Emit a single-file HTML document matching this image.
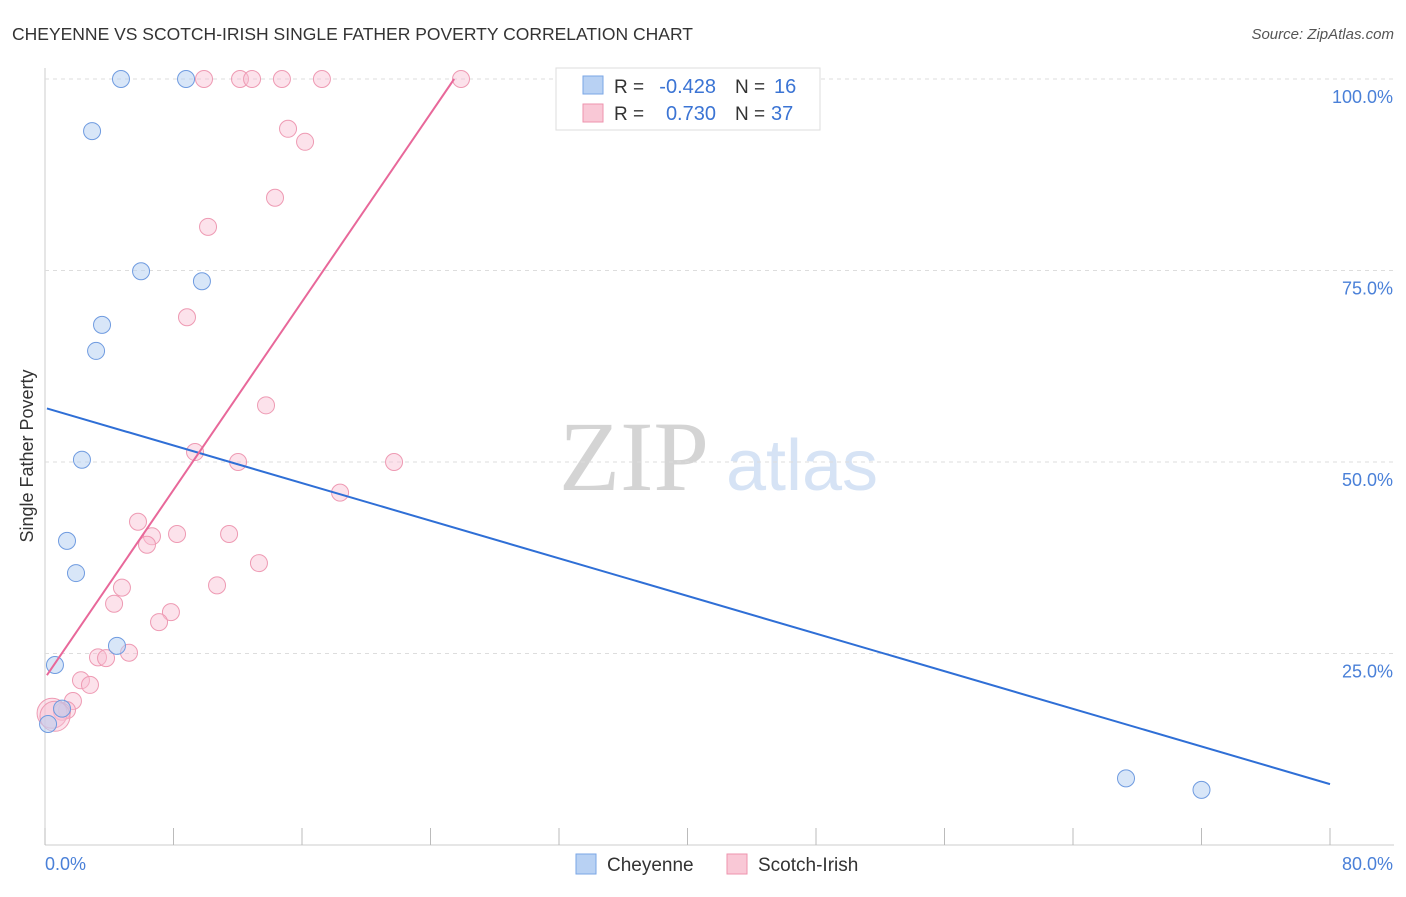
<!DOCTYPE html>
<html><head><meta charset="utf-8"><style>
body{margin:0;background:#fff;font-family:"Liberation Sans",sans-serif}
</style></head><body>
<svg id="c" width="1406" height="892" style="font-family:'Liberation Sans',sans-serif">
<text x="12" y="40" font-size="17.5" fill="#333">CHEYENNE VS SCOTCH-IRISH SINGLE FATHER POVERTY CORRELATION CHART</text>
<text x="1394" y="39" font-size="15" fill="#555" font-style="italic" text-anchor="end">Source: ZipAtlas.com</text>
<text x="33" y="456" font-size="18" fill="#333" text-anchor="middle" transform="rotate(-90 33 456)">Single Father Poverty</text>
<g><text x="634" y="490" font-size="100" fill="#d4d4d4" style="font-family:'Liberation Serif',serif" text-anchor="middle">ZIP</text><text x="802" y="490" font-size="72" fill="#d6e3f5" text-anchor="middle">atlas</text></g>
<g id="grid"></g><g id="marks"></g><g id="lines"></g>
<g>
<rect x="556" y="68" width="264" height="62" fill="#fff" stroke="#ddd"/>
<rect x="583" y="76" width="20" height="18" fill="#b8d1f3" stroke="#7aa6e6"/>
<rect x="583" y="104" width="20" height="18" fill="#f9c8d6" stroke="#ee93ae"/>
<text x="614" y="93" font-size="19" fill="#333">R =</text><text x="716" y="93" font-size="20" fill="#3b74d4" text-anchor="end">-0.428</text>
<text x="735" y="93" font-size="19" fill="#333">N =</text><text x="774" y="93" font-size="20" fill="#3b74d4">16</text>
<text x="614" y="120" font-size="19" fill="#333">R =</text><text x="716" y="120" font-size="20" fill="#3b74d4" text-anchor="end">0.730</text>
<text x="735" y="120" font-size="19" fill="#333">N =</text><text x="771" y="120" font-size="20" fill="#3b74d4">37</text>
</g>
<g>
<rect x="576" y="854" width="20" height="20" fill="#b8d1f3" stroke="#7aa6e6"/><text x="607" y="871" font-size="19" fill="#333">Cheyenne</text>
<rect x="727" y="854" width="20" height="20" fill="#f9c8d6" stroke="#ee93ae"/><text x="758" y="871" font-size="19" fill="#333">Scotch-Irish</text>
</g>
</svg>
<script>
const cheyX=[4.73,8.78,2.93,5.98,9.77,3.55,3.18,2.30,1.37,1.93,4.48,0.62,0.19,1.06,67.3,72.0];
const cheyY=[100,100,93.2,74.9,73.6,67.9,64.5,50.3,39.7,35.5,26.0,23.5,15.8,17.8,8.7,7.2];
const scotX=[9.9,12.14,12.89,14.75,17.24,25.9,15.13,16.19,14.32,10.15,8.84,13.76,9.34,12.02,21.73,18.37,5.79,6.66,8.22,11.46,6.35,13.32,10.71,4.79,4.30,7.84,7.10,3.30,3.80,5.23,2.24,2.80,1.74,1.37,1.06,0.44,0.62];
const scotY=[100,100,100,100,100,100,93.5,91.8,84.5,80.7,68.9,57.4,51.3,50.0,50.0,46.0,42.2,40.3,40.6,40.6,39.2,36.8,33.9,33.6,31.5,30.4,29.1,24.5,24.4,25.1,21.5,20.9,18.8,17.6,17.4,17.2,16.8];
const cheyTrend=[57.07,-0.614];
const scotTrend=[21.8,3.07];
const yTicks=[25,50,75,100];
const yTickLabels=["25.0%","50.0%","75.0%","100.0%"];
const xTicks=[0,8,16,24,32,40,48,56,64,72,80];
const xEndLabels=["0.0%","80.0%"];
const X=v=>45+v/80*1285, Y=v=>845-v*7.66;
const NS="http://www.w3.org/2000/svg";
function mk(t,a,p){const e=document.createElementNS(NS,t);for(const k in a)e.setAttribute(k,a[k]);p.appendChild(e);return e;}
const g=document.getElementById('grid'),m=document.getElementById('marks'),l=document.getElementById('lines');
let ax=mk('line',{x1:45,y1:68,x2:45,y2:845,stroke:'#ccc'},g);


let bx=mk('line',{x1:45,y1:845,x2:1394,y2:845,stroke:'#ccc'},g);


yTicks.forEach((t,i)=>{
 let gl=mk('line',{x1:45,x2:1394,y1:Y(t),y2:Y(t),stroke:'#ddd','stroke-dasharray':'4,4'},g);
 
 
 let tx=mk('text',{x:1393,y:Y(t)+24,'font-size':18,fill:'#4a80d8','text-anchor':'end'},g);tx.textContent=yTickLabels[i];
 
 
});
xTicks.forEach(t=>{
 let tk=mk('line',{x1:X(t),x2:X(t),y1:828,y2:845,stroke:'#bbb'},g);
 
 
});
let t0=mk('text',{x:45,y:870,'font-size':18,fill:'#4a80d8'},g);t0.textContent=xEndLabels[0];


let t1=mk('text',{x:1393,y:870,'font-size':18,fill:'#4a80d8','text-anchor':'end'},g);t1.textContent=xEndLabels[1];


scotX.forEach((x,i)=>{
 const r=i>=35?15:8.5;
 let c=mk('circle',{cx:X(x),cy:Y(scotY[i]),r:r,fill:'rgba(249,190,210,0.45)',stroke:'#ee9ab3','stroke-width':1},m);
 
 
});
cheyX.forEach((x,i)=>{
 let c=mk('circle',{cx:X(x),cy:Y(cheyY[i]),r:8.5,fill:'rgba(184,209,243,0.55)',stroke:'#6f9be0','stroke-width':1},m);
 
 
});
let bl=mk('line',{x1:X(0.12),y1:Y(cheyTrend[0]+cheyTrend[1]*0.12),x2:X(80),y2:Y(cheyTrend[0]+cheyTrend[1]*80),stroke:'#2f6fd6','stroke-width':2},l);


const sx2=(100-scotTrend[0])/scotTrend[1];
let pl=mk('line',{x1:X(0.12),y1:Y(scotTrend[0]+scotTrend[1]*0.12),x2:X(sx2),y2:Y(100),stroke:'#e8689a','stroke-width':2},l);


</script>
</body></html>
